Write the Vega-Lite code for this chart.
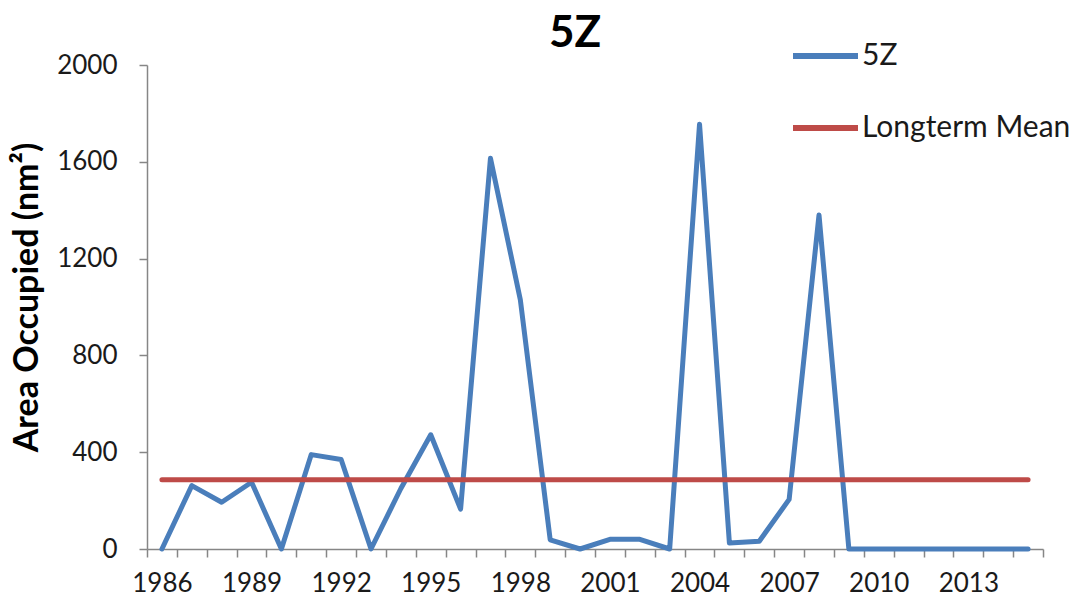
{
  "$schema": "https://vega.github.io/schema/vega-lite/v6.json",
  "width": 896,
  "height": 484,
  "autosize": {"type": "none"},
  "padding": {"left": 147, "top": 65, "right": 31, "bottom": 60},
  "background": "white",
  "title": {"text": "5Z", "font": "Lato", "fontSize": 44, "fontWeight": "bold", "color": "#000000", "anchor": "middle", "dx": -20, "dy": 43, "baseline": "alphabetic", "offset": -27},
  "data": {"values": [
    {"year": 1986, "5Z": 0, "Longterm Mean": 286},
    {"year": 1987, "5Z": 262, "Longterm Mean": 286},
    {"year": 1988, "5Z": 193, "Longterm Mean": 286},
    {"year": 1989, "5Z": 276, "Longterm Mean": 286},
    {"year": 1990, "5Z": 0, "Longterm Mean": 286},
    {"year": 1991, "5Z": 390, "Longterm Mean": 286},
    {"year": 1992, "5Z": 370, "Longterm Mean": 286},
    {"year": 1993, "5Z": 0, "Longterm Mean": 286},
    {"year": 1994, "5Z": 250, "Longterm Mean": 286},
    {"year": 1995, "5Z": 472, "Longterm Mean": 286},
    {"year": 1996, "5Z": 165, "Longterm Mean": 286},
    {"year": 1997, "5Z": 1615, "Longterm Mean": 286},
    {"year": 1998, "5Z": 1030, "Longterm Mean": 286},
    {"year": 1999, "5Z": 38, "Longterm Mean": 286},
    {"year": 2000, "5Z": 0, "Longterm Mean": 286},
    {"year": 2001, "5Z": 40, "Longterm Mean": 286},
    {"year": 2002, "5Z": 40, "Longterm Mean": 286},
    {"year": 2003, "5Z": 0, "Longterm Mean": 286},
    {"year": 2004, "5Z": 1755, "Longterm Mean": 286},
    {"year": 2005, "5Z": 25, "Longterm Mean": 286},
    {"year": 2006, "5Z": 32, "Longterm Mean": 286},
    {"year": 2007, "5Z": 205, "Longterm Mean": 286},
    {"year": 2008, "5Z": 1380, "Longterm Mean": 286},
    {"year": 2009, "5Z": 0, "Longterm Mean": 286},
    {"year": 2010, "5Z": 0, "Longterm Mean": 286},
    {"year": 2011, "5Z": 0, "Longterm Mean": 286},
    {"year": 2012, "5Z": 0, "Longterm Mean": 286},
    {"year": 2013, "5Z": 0, "Longterm Mean": 286},
    {"year": 2014, "5Z": 0, "Longterm Mean": 286},
    {"year": 2015, "5Z": 0, "Longterm Mean": 286}
  ]},
  "transform": [{"fold": ["5Z", "Longterm Mean"], "as": ["series", "value"]}],
  "mark": {"type": "line", "strokeWidth": 5, "strokeCap": "round", "strokeJoin": "round"},
  "encoding": {
    "x": {
      "field": "year", "type": "ordinal", "sort": "ascending",
      "scale": {"type": "band", "paddingInner": 0, "paddingOuter": 0},
      "bandPosition": 0.5,
      "axis": {
        "title": null, "tickBand": "extent", "labelAngle": 0,
        "labelExpr": "(+datum.value - 1986) % 3 == 0 ? datum.value : ''",
        "labelFont": "Lato", "labelFontSize": 26, "labelColor": "#1a1a1a", "labelPadding": 13,
        "tickSize": 8, "tickColor": "#868686", "domainColor": "#868686", "tickWidth": 1.5, "domainWidth": 1.5,
        "grid": false
      }
    },
    "y": {
      "field": "value", "type": "quantitative",
      "scale": {"domain": [0, 2000], "nice": false},
      "axis": {
        "title": "Area Occupied (nm²)", "titleFont": "Lato", "titleFontSize": 34, "titleFontWeight": "bold", "titleColor": "#000000",
        "titleAngle": -90, "titleAlign": "center", "titleBaseline": "middle", "titleX": -120, "titleY": 232,
        "values": [0, 400, 800, 1200, 1600, 2000], "format": "d",
        "labelFont": "Lato", "labelFontSize": 26, "labelColor": "#1a1a1a", "labelPadding": 22,
        "tickSize": 8, "tickColor": "#868686", "domainColor": "#868686", "tickWidth": 1.5, "domainWidth": 1.5,
        "grid": false
      }
    },
    "color": {
      "field": "series", "type": "nominal",
      "scale": {"domain": ["5Z", "Longterm Mean"], "range": ["#4A7EBB", "#BE4B48"]},
      "legend": {
        "title": null, "orient": "none", "legendX": 643, "legendY": -44.5,
        "symbolType": "stroke", "symbolSize": 4225, "symbolStrokeWidth": 6,
        "labelFont": "Lato", "labelFontSize": 30, "labelColor": "#1a1a1a", "labelOffset": 1, "labelLimit": 400,
        "rowPadding": 21, "padding": 0
      }
    }
  },
  "config": {"view": {"stroke": null}}
}
